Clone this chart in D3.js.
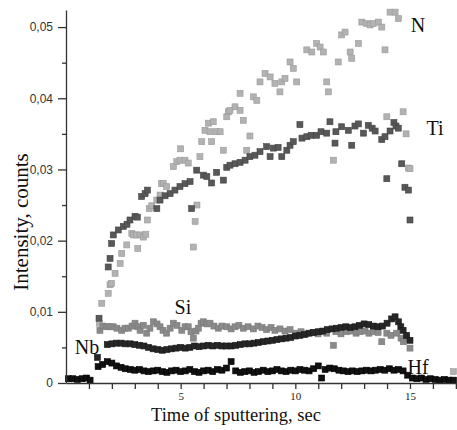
<!DOCTYPE html>
<html>
<head>
<meta charset="utf-8">
<script src="https://cdn.jsdelivr.net/npm/d3@7"></script>
<style>
  body { margin: 0; background: #fff; }
  svg { display: block; }
</style>
</head>
<body>
<script>
// [time, intensity] readings per element
const nData = [
  [1.45,0.0084],[1.56,0.0112],[1.84,0.0126],[1.92,0.0138],[1.99,0.0140],[2.14,0.0154],[2.36,0.0168],
  [2.43,0.0182],[2.65,0.0194],[2.87,0.0210],[2.94,0.0208],[3.08,0.0208],[3.13,0.0189],[3.23,0.0208],
  [3.37,0.0205],[3.48,0.0209],[3.55,0.0229],[3.63,0.0245],[3.74,0.0249],[3.96,0.0257],[4.10,0.0264],
  [4.17,0.0280],[4.24,0.0280],[4.39,0.0276],[4.68,0.0304],[4.83,0.0311],[4.97,0.0313],[5.00,0.0329],
  [5.19,0.0313],[5.33,0.0309],[5.55,0.0191],[5.63,0.0227],[5.71,0.0250],[5.84,0.0318],[5.92,0.0339],
  [6.06,0.0355],[6.21,0.0365],[6.28,0.0353],[6.35,0.0339],[6.42,0.0367],[6.57,0.0353],[6.72,0.0353],
  [6.86,0.0327],[7.01,0.0374],[7.08,0.0381],[7.15,0.0383],[7.37,0.0388],[7.59,0.0383],[7.59,0.0407],
  [7.73,0.0369],[7.88,0.0327],[8.02,0.0347],[8.17,0.0402],[8.32,0.0397],[8.46,0.0423],[8.68,0.0435],
  [8.90,0.0430],[9.11,0.0421],[9.33,0.0409],[9.41,0.0423],[9.55,0.0428],[9.77,0.0451],[9.91,0.0442],
  [10.06,0.0423],[10.50,0.0468],[10.72,0.0465],[10.93,0.0477],[11.08,0.0472],[11.22,0.0465],
  [11.37,0.0423],[11.44,0.0409],[11.66,0.0313],[11.87,0.0451],[12.02,0.0489],[12.17,0.0493],
  [12.39,0.0465],[12.46,0.0456],[12.75,0.0477],[12.90,0.0507],[13.11,0.0505],[13.26,0.0503],
  [13.40,0.0505],[13.62,0.0507],[13.77,0.0500],[13.91,0.0468],[13.99,0.0374],[14.13,0.0521],
  [14.35,0.0521],[14.49,0.0512],[14.70,0.0381],[14.83,0.0350],[14.93,0.0302],[15.00,0.0301],
  [16.89,0.0016]
];

const tiData = [
  [1.44,0.0091],[1.84,0.0163],[1.92,0.0175],[1.99,0.0196],[2.06,0.0208],[2.28,0.0215],[2.50,0.0220],
  [2.66,0.0223],[2.79,0.0229],[3.01,0.0234],[3.11,0.0233],[3.30,0.0262],[3.45,0.0266],[3.55,0.0271],
  [3.96,0.0245],[4.10,0.0257],[4.32,0.0263],[4.54,0.0266],[4.75,0.0271],[4.97,0.0276],[5.19,0.0280],
  [5.41,0.0283],[5.48,0.0245],[5.70,0.0299],[5.99,0.0292],[6.14,0.0290],[6.35,0.0281],[6.57,0.0296],
  [6.86,0.0285],[7.01,0.0303],[7.15,0.0306],[7.37,0.0308],[7.59,0.0310],[7.81,0.0313],[8.02,0.0318],
  [8.24,0.0320],[8.46,0.0325],[8.75,0.0332],[8.90,0.0318],[9.04,0.0330],[9.25,0.0331],[9.41,0.0318],
  [9.63,0.0327],[9.77,0.0334],[9.91,0.0339],[10.20,0.0363],[10.29,0.0344],[10.50,0.0346],
  [10.69,0.0348],[10.93,0.0348],[11.12,0.0353],[11.37,0.0351],[11.51,0.0367],[11.73,0.0337],
  [11.77,0.0353],[12.02,0.0360],[12.31,0.0355],[12.46,0.0334],[12.60,0.0361],[12.75,0.0364],
  [12.97,0.0351],[13.18,0.0362],[13.35,0.0358],[13.48,0.0354],[13.77,0.0342],[13.91,0.0346],
  [13.99,0.0287],[14.13,0.0354],[14.30,0.0366],[14.39,0.0361],[14.49,0.0358],[14.64,0.0308],
  [14.78,0.0275],[14.93,0.0271],[15.00,0.0229]
];

const siData = [
  [1.48,0.0074],[1.61,0.0080],[1.78,0.0079],[1.92,0.0079],[2.06,0.0079],[2.22,0.0077],[2.43,0.0074],
  [2.57,0.0077],[2.72,0.0077],[2.88,0.0080],[3.01,0.0084],[3.14,0.0079],[3.23,0.0074],[3.37,0.0081],
  [3.52,0.0070],[3.66,0.0077],[3.81,0.0086],[3.97,0.0083],[4.10,0.0079],[4.23,0.0074],[4.39,0.0070],
  [4.54,0.0077],[4.68,0.0084],[4.84,0.0081],[5.05,0.0074],[5.19,0.0079],[5.33,0.0079],[5.45,0.0072],
  [5.55,0.0063],[5.67,0.0073],[5.77,0.0077],[5.89,0.0084],[5.99,0.0086],[6.15,0.0083],[6.28,0.0084],
  [6.45,0.0080],[6.64,0.0077],[6.80,0.0080],[7.01,0.0079],[7.20,0.0076],[7.37,0.0079],[7.54,0.0081],
  [7.73,0.0077],[7.94,0.0079],[8.17,0.0076],[8.37,0.0080],[8.55,0.0078],[8.75,0.0075],[8.94,0.0078],
  [9.11,0.0074],[9.33,0.0076],[9.55,0.0073],[9.77,0.0075],[10.06,0.0070],[10.25,0.0072],[10.47,0.0069],
  [10.78,0.0071],[10.99,0.0069],[11.16,0.0072],[11.37,0.0070],[11.66,0.0053],[11.77,0.0072],
  [11.99,0.0069],[12.24,0.0072],[12.43,0.0073],[12.65,0.0070],[12.82,0.0072],[13.04,0.0073],
  [13.21,0.0070],[13.40,0.0072],[13.61,0.0071],[13.77,0.0058],[13.99,0.0070],[14.17,0.0067],
  [14.42,0.0070],[14.61,0.0063],[14.71,0.0058],[14.86,0.0063],[15.00,0.0049]
];

const nbData = [
  [1.37,0.0036],
  [1.8,0.0054],[2.0,0.0055],[2.2,0.0056],[2.4,0.0056],[2.6,0.0055],[2.8,0.0055],[3.0,0.0054],
  [3.2,0.0053],[3.4,0.0052],[3.6,0.0050],[3.8,0.0048],[4.0,0.0047],[4.2,0.0046],[4.4,0.0047],
  [4.6,0.0048],[4.8,0.0049],[5.0,0.0050],[5.2,0.0049],[5.4,0.0050],[5.6,0.0052],[5.8,0.0051],
  [6.0,0.0052],[6.2,0.0053],[6.4,0.0052],[6.6,0.0053],[6.8,0.0052],[7.0,0.0052],[7.2,0.0052],
  [7.4,0.0053],[7.6,0.0054],[7.8,0.0055],[8.0,0.0055],[8.2,0.0056],[8.4,0.0057],[8.6,0.0058],
  [8.8,0.0059],[9.0,0.0060],[9.2,0.0061],[9.4,0.0062],[9.6,0.0063],[9.8,0.0064],[10.0,0.0066],
  [10.2,0.0067],[10.4,0.0068],[10.6,0.0070],[10.8,0.0071],[11.0,0.0072],[11.2,0.0073],[11.4,0.0075],
  [11.6,0.0076],[11.8,0.0077],[12.0,0.0078],[12.2,0.0079],[12.4,0.0078],[12.6,0.0079],[12.8,0.0081],
  [13.0,0.0083],[13.2,0.0082],[13.4,0.0080],[13.6,0.0079],[13.8,0.0080],[14.0,0.0084],[14.2,0.0090],
  [14.35,0.0093],[14.5,0.0086],[14.6,0.0079],[14.7,0.0074],[14.85,0.0067],[15.0,0.0060]
];

const hfData = [
  [0.1,0.0006],[0.3,0.0006],[0.5,0.0005],[0.7,0.0006],[0.9,0.0007],[1.05,0.0004],
  [1.4,0.0023],[1.6,0.0026],[1.8,0.0030],[2.0,0.0028],[2.2,0.0024],[2.4,0.0022],[2.6,0.0020],
  [2.8,0.0019],[3.0,0.0018],[3.2,0.0019],[3.4,0.0017],[3.6,0.0016],[3.8,0.0017],[4.0,0.0018],
  [4.2,0.0016],[4.4,0.0015],[4.6,0.0017],[4.8,0.0018],[5.0,0.0016],[5.2,0.0017],[5.4,0.0019],
  [5.6,0.0016],[5.8,0.0015],[6.0,0.0017],[6.2,0.0018],[6.4,0.0016],[6.6,0.0019],[6.8,0.0018],
  [7.0,0.0021],[7.2,0.0030],[7.4,0.0017],[7.6,0.0015],[7.8,0.0016],[8.0,0.0017],[8.2,0.0015],
  [8.4,0.0016],[8.6,0.0018],[8.8,0.0016],[9.0,0.0017],[9.2,0.0019],[9.4,0.0017],[9.6,0.0016],
  [9.8,0.0018],[10.0,0.0017],[10.2,0.0019],[10.4,0.0018],[10.6,0.0017],[10.8,0.0020],[11.0,0.0024],
  [11.15,0.0007],[11.3,0.0019],[11.5,0.0021],[11.7,0.0020],[11.9,0.0018],[12.1,0.0017],[12.3,0.0016],
  [12.5,0.0017],[12.7,0.0016],[12.9,0.0017],[13.1,0.0018],[13.3,0.0017],[13.5,0.0018],[13.7,0.0019],
  [13.9,0.0018],[14.1,0.0020],[14.3,0.0018],[14.5,0.0019],[14.7,0.0017],[14.9,0.0011],[15.1,0.0007],
  [15.3,0.0006],[15.5,0.0007],[15.7,0.0005],[15.9,0.0006],[16.1,0.0005],[16.3,0.0004],[16.5,0.0005],
  [16.7,0.0004],[16.9,0.0004]
];

const yMajorTicks = [0, 0.01, 0.02, 0.03, 0.04, 0.05];
const yMinorTicks = [0.005, 0.015, 0.025, 0.035, 0.045];
const xTicks = [1,2,3,4,5,6,7,8,9,10,11,12,13,14,15,16,17];
const xLabelTicks = [5, 10, 15];

// label anchor points in data units (centre of the text)
const series = [
  {name: "N",  data: nData,  fill: "#b2b2b2", stroke: "#9a9a9a", lx: 15.35, ly: 0.0503},
  {name: "Ti", data: tiData, fill: "#585858", stroke: "#444",    lx: 16.09, ly: 0.0358},
  {name: "Si", data: siData, fill: "#8a8a8a", stroke: "#7a7a7a", lx: 5.10,  ly: 0.0107},
  {name: "Nb", data: nbData, fill: "#262626", stroke: "#1a1a1a", lx: 0.92,  ly: 0.0051},
  {name: "Hf", data: hfData, fill: "#111",    stroke: "#000",    lx: 15.35, ly: 0.0022}
];

const width = 457, height = 430;
const margin = {top: 10, right: 0, bottom: 47, left: 66};

const svg = d3.select("body").append("svg")
  .attr("width", width)
  .attr("height", height);

const x = d3.scaleLinear()
  .domain([0, 17.05])
  .range([margin.left, width - margin.right]);

const y = d3.scaleLinear()
  .domain([0, 0.0524])
  .range([height - margin.bottom, margin.top]);

const fmt = d => d === 0 ? "0" : d3.format(".2f")(d).replace(".", ",");

// markers
const size = 6;
series.forEach(s => {
  svg.append("g")
    .selectAll("rect")
    .data(s.data)
    .join("rect")
    .attr("x", d => x(d[0]) - size / 2)
    .attr("y", d => y(d[1]) - size / 2)
    .attr("width", size)
    .attr("height", size)
    .attr("fill", s.fill)
    .attr("stroke", s.stroke)
    .attr("stroke-width", 0.6);
});

// y axis
svg.append("g")
  .attr("transform", `translate(${margin.left},0)`)
  .call(d3.axisLeft(y).tickValues(yMinorTicks).tickSize(4).tickFormat("").tickSizeOuter(0))
  .call(g => g.select(".domain").remove())
  .call(g => g.selectAll("line").attr("stroke", "#333").attr("stroke-width", 1.3));

svg.append("g")
  .attr("transform", `translate(${margin.left},0)`)
  .call(d3.axisLeft(y).tickValues(yMajorTicks).tickSize(8).tickPadding(5).tickFormat(fmt).tickSizeOuter(0))
  .call(g => g.selectAll("line, path").attr("stroke", "#333").attr("stroke-width", 1.3))
  .call(g => g.selectAll("text")
    .attr("font-family", "'Liberation Sans', Arial, sans-serif")
    .attr("font-size", 12)
    .attr("fill", "#333"));

// x axis
svg.append("g")
  .attr("transform", `translate(0,${y(0)})`)
  .call(d3.axisBottom(x).tickValues(xTicks).tickSize(6).tickPadding(3)
    .tickFormat(d => xLabelTicks.includes(d) ? d : "").tickSizeOuter(0))
  .call(g => g.selectAll("line, path").attr("stroke", "#333").attr("stroke-width", 1.3))
  .call(g => g.selectAll("text")
    .attr("font-family", "'Liberation Serif', serif")
    .attr("font-size", 11)
    .attr("fill", "#222"));

// axis titles
svg.append("text")
  .attr("x", 236)
  .attr("y", 421)
  .attr("text-anchor", "middle")
  .attr("font-family", "'Liberation Serif', serif")
  .attr("font-size", 18.5)
  .attr("fill", "#111")
  .text("Time of sputtering, sec");

svg.append("text")
  .attr("transform", `translate(28,222) rotate(-90)`)
  .attr("text-anchor", "middle")
  .attr("font-family", "'Liberation Serif', serif")
  .attr("font-size", 21)
  .attr("fill", "#111")
  .text("Intensity, counts");

// element labels
svg.append("g")
  .selectAll("text")
  .data(series)
  .join("text")
  .attr("x", d => x(d.lx))
  .attr("y", d => y(d.ly))
  .attr("dy", "0.35em")
  .attr("text-anchor", "middle")
  .attr("font-family", "'Liberation Serif', serif")
  .attr("font-size", 20)
  .attr("fill", "#111")
  .text(d => d.name);
</script>
</body>
</html>
